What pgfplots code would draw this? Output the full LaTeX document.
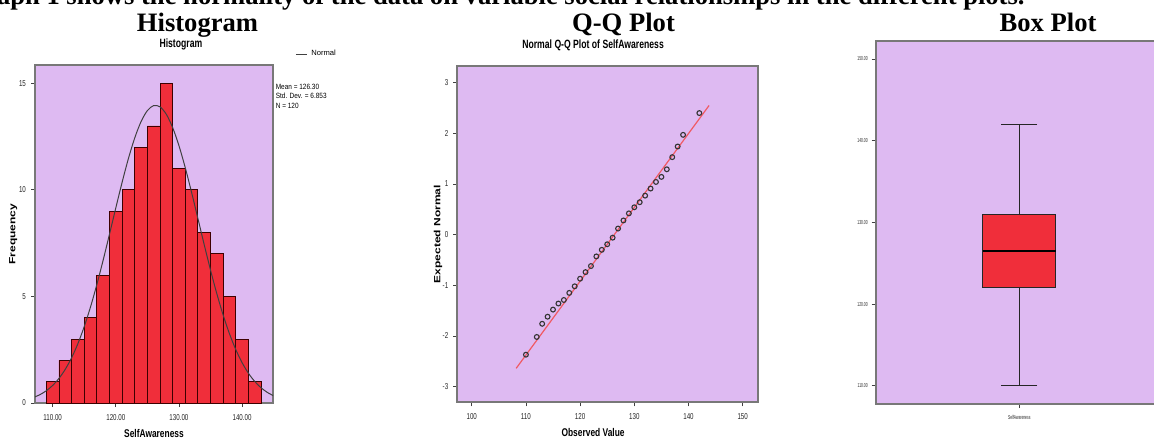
\documentclass[border=0pt]{standalone}
\usepackage{fontspec}
\setmainfont{Liberation Sans}
\newfontfamily\titlefont{Liberation Serif}
\usepackage{pgfplots}
\usepgfplotslibrary{statistics}
\pgfplotsset{compat=1.18}

\definecolor{spssbg}{RGB}{222,186,242}
\definecolor{spssred}{RGB}{240,46,58}
\definecolor{framegray}{RGB}{120,120,120}
\definecolor{qqline}{RGB}{240,90,100}

\pgfplotsset{
  spss/.style={
    scale only axis,
    axis background/.style={fill=spssbg},
    axis line style={framegray, line width=0.9pt},
    tick style={black!75, line width=0.4pt},
    tick align=outside, major tick length=2pt,
    xtick pos=bottom, ytick pos=left,
    ticklabel style={font=\fontsize{4.3}{5}\selectfont, xscale=0.72, text=black!85},
    /pgf/number format/assume math mode=true,
    title style={font=\fontsize{6}{7}\selectfont\bfseries, xscale=0.72, anchor=base, yshift=2.8pt},
    xlabel style={font=\fontsize{5.6}{7}\selectfont\bfseries, xscale=0.75, at={(axis description cs:0.5,0)}, anchor=base, yshift=-17pt},
    ylabel style={font=\fontsize{6}{7}\selectfont\bfseries, anchor=center, yscale=0.75},
  },
}

\begin{document}
\begin{tikzpicture}[x=0.5pt,y=0.5pt]
\fill[white] (0,0) rectangle (1154,439);

% page text above the plots
\node[anchor=base east, inner sep=0pt, font=\titlefont\bfseries\fontsize{13.3}{15}\selectfont]
  at (1025,434) {Graph 1 shows the normality of the data on variable social relationships in the different plots.};
\node[anchor=base, inner sep=0pt, font=\titlefont\bfseries\fontsize{13.3}{15}\selectfont] at (197.5,407.5) {Histogram};
\node[anchor=base, inner sep=0pt, font=\titlefont\bfseries\fontsize{13.3}{15}\selectfont] at (623.5,407.5) {Q-Q Plot};
\node[anchor=base, inner sep=0pt, font=\titlefont\bfseries\fontsize{13.3}{15}\selectfont] at (1048,407.5) {Box Plot};

% ---------------- histogram
\begin{axis}[spss,
  at={(17.5pt,18pt)}, anchor=south west,
  width=119pt, height=169pt,
  xmin=107.2, xmax=144.9, ymin=0, ymax=15.86,
  xtick={110,120,130,140}, xticklabels={110.00,120.00,130.00,140.00},
  ytick={0,5,10,15},
  title={Histogram},
  title style={at={(axis description cs:0.613,1)}},
  xlabel={SelfAwareness},
  ylabel={Frequency},
  ylabel style={at={(axis description cs:-0.092,0.5)}},
  legend style={at={(axis description cs:1,1)}, anchor=west, xshift=11pt, yshift=5.2pt,
    draw=none, fill=none, inner sep=0pt, font=\fontsize{3.8}{4}\selectfont},
  legend cell align=left,
  legend image code/.code={\draw[#1] (0pt,0pt) -- (5.5pt,0pt);},
]
\addplot[ybar, bar width=2, bar shift=0pt, fill=spssred, draw=black!60!red!60!black, line width=0.4pt, forget plot]
  coordinates {(110,1) (112,2) (114,3) (116,4) (118,6) (120,9) (122,10) (124,12) (126,13)
               (128,15) (130,11) (132,10) (134,8) (136,7) (138,5) (140,3) (142,1)};
\addplot[black!75, line width=0.5pt, smooth] coordinates {
  (107,0.265) (108,0.395) (109,0.577) (110,0.826) (111,1.156) (112,1.584) (113,2.125)
  (114,2.790) (115,3.587) (116,4.515) (117,5.563) (118,6.710) (119,7.922) (120,9.155)
  (121,10.359) (122,11.474) (123,12.440) (124,13.205) (125,13.721) (126,13.957)
  (127,13.897) (128,13.547) (129,12.927) (130,12.075) (131,11.042) (132,9.885)
  (133,8.663) (134,7.432) (135,6.241) (136,5.130) (137,4.129) (138,3.252) (139,2.509)
  (140,1.894) (141,1.400) (142,1.013) (143,0.717) (144,0.497) (145,0.338)};
\addlegendentry{Normal}
\end{axis}
\node[anchor=north west, align=left, inner sep=0pt, xscale=0.85,
  font=\fontsize{3.8}{4.6}\selectfont] at (275.5,355) {Mean = 126.30\\Std. Dev. = 6.853\\N = 120};

% ---------------- Q-Q plot
\begin{axis}[spss,
  at={(228.65pt,18.35pt)}, anchor=south west,
  width=150.2pt, height=168.3pt,
  xmin=97.34, xmax=152.77, ymin=-3.31, ymax=3.335,
  xtick={100,110,...,150}, ytick={-3,-2,...,3},
  title={Normal Q-Q Plot of SelfAwareness},
  title style={at={(axis description cs:0.452,1)}},
  xlabel={Observed Value},
  xlabel style={at={(axis description cs:0.452,0)}},
  ylabel={Expected Normal},
  ylabel style={at={(axis description cs:-0.064,0.5)}},
]
\addplot[qqline, line width=0.6pt] coordinates {(108.2,-2.64) (143.8,2.55)};
\addplot[only marks, mark=o, mark size=1.2pt, mark options={draw=black!80, line width=0.55pt}]
  coordinates {
  (110,-2.37) (112,-2.02) (113,-1.76) (114,-1.62) (115,-1.48) (116,-1.36) (117,-1.29)
  (118,-1.15) (119,-1.02) (120,-0.87) (121,-0.74) (122,-0.62) (123,-0.43) (124,-0.30)
  (125,-0.19) (126,-0.06) (127,0.12) (128,0.28) (129,0.42) (130,0.54) (131,0.64)
  (132,0.77) (133,0.91) (134,1.04) (135,1.14) (136,1.29) (137,1.53) (138,1.74)
  (139,1.97) (142,2.40)};
\end{axis}

% ---------------- box plot
\begin{axis}[spss,
  at={(437.85pt,17.5pt)}, anchor=south west,
  width=143.6pt, height=181.5pt,
  xmin=0, xmax=1, ymin=107.76, ymax=152.2,
  xtick={0.5}, xticklabels={SelfAwareness},
  ytick={110,120,...,150}, yticklabels={110.00,120.00,130.00,140.00,150.00},
  ticklabel style={font=\fontsize{2.9}{3.5}\selectfont, xscale=0.8},
  boxplot/draw direction=y,
  boxplot/every median/.style={draw=black, line width=1.4pt},
]
\addplot[boxplot prepared={lower whisker=110, lower quartile=122, median=126.5,
    upper quartile=131, upper whisker=142, draw position=0.5,
    box extend=0.253, whisker extend=0.125},
  draw=black!85, fill=spssred, line width=0.5pt] coordinates {};
\end{axis}

\pgfresetboundingbox
\useasboundingbox (0,0) rectangle (1154,439);
\end{tikzpicture}
\end{document}
